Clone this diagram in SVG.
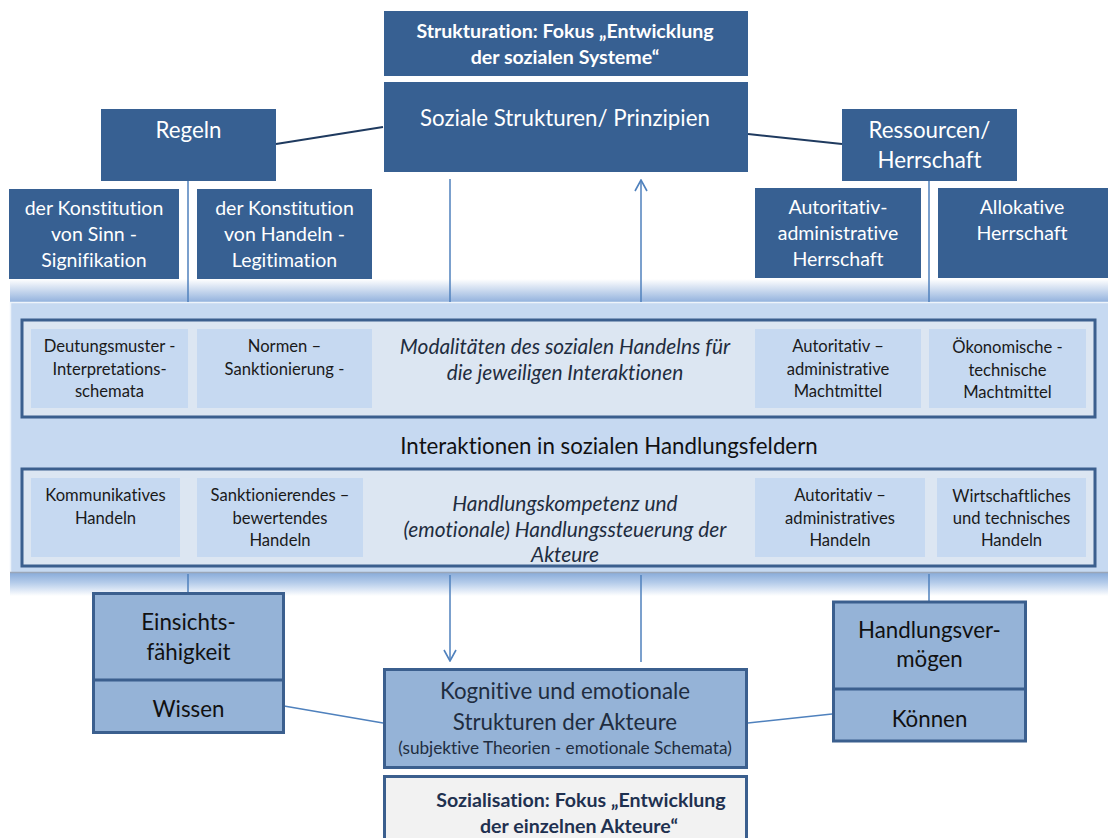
<svg xmlns="http://www.w3.org/2000/svg" width="1108" height="838" viewBox="0 0 1108 838">
  <defs>
    <style>
      text { font-family: Lato, "Liberation Sans", sans-serif; text-anchor: middle; font-variant-ligatures: none; }
      .dark { fill: #376092; }
      .wt { fill: #ffffff; }
      .frame { fill: #DCE6F2; stroke: #3B5F8E; stroke-width: 3; }
      .cell { fill: #C6D9F1; }
      .ct { font-size: 16.6px; fill: #1a1a1a; }
      .it { font-style: italic; font-size: 20.9px; fill: #1F2D40; }
      .lb { fill: #95B3D7; stroke: #3B5F8E; stroke-width: 3; }
      .bt { font-size: 22.3px; fill: #111111; }
      .bold { font-size: 19.6px; font-weight: bold; }
      .conn { stroke: #4F81BD; stroke-width: 1.5; fill: none; }
      .conn-dark { stroke: #1F3A5F; stroke-width: 2; fill: none; }
    </style>
    <linearGradient id="bandTop" x1="0" y1="0" x2="0" y2="1">
      <stop offset="0" stop-color="#ffffff"/>
      <stop offset="1" stop-color="#93B2DD"/>
    </linearGradient>
    <linearGradient id="bandBottom" x1="0" y1="0" x2="0" y2="1">
      <stop offset="0" stop-color="#86A9D8"/>
      <stop offset="0.45" stop-color="#B5CCEA"/>
      <stop offset="1" stop-color="#ffffff"/>
    </linearGradient>
    <marker id="vhead" viewBox="-12 -7 13 14" markerWidth="13" markerHeight="14" refX="0" refY="0" orient="auto" markerUnits="userSpaceOnUse">
      <path d="M-11,-6 L0,0 L-11,6" fill="none" stroke="#4F81BD" stroke-width="1.6"/>
    </marker>
  </defs>

  <rect width="1108" height="838" fill="#ffffff"/>

  <!-- interaction band: bevelled panel with the two framed rows -->
  <g id="interaktionsfeld">
    <rect x="10" y="279" width="1098" height="23" fill="url(#bandTop)"/>
    <rect x="10" y="302" width="1098" height="270" fill="#C6D9F1"/>
    <path d="M10.5,572 V302.5 H1108" fill="none" stroke="#EEF4FB" stroke-width="1.5"/>
    <rect x="10" y="572" width="1098" height="24" fill="url(#bandBottom)"/>
    <line x1="10" y1="572.5" x2="1108" y2="572.5" stroke="#9AA6B8" stroke-width="1.5"/>
    <text x="609" y="454" style="font-size:22.3px; fill:#111111">Interaktionen in sozialen Handlungsfeldern</text>
  </g>

  <g id="modalitaeten">
    <rect class="frame" x="22" y="320" width="1073" height="97"/>
    <text class="it" x="565" y="354">Modalitäten des sozialen Handelns für</text>
    <text class="it" x="565" y="380">die jeweiligen Interaktionen</text>
  </g>
  <g id="deutungsmuster">
    <rect class="cell" x="31" y="329" width="157" height="79"/>
    <text class="ct" x="109.5" y="352">Deutungsmuster -</text>
    <text class="ct" x="109.5" y="375">Interpretations-</text>
    <text class="ct" x="109.5" y="397">schemata</text>
  </g>
  <g id="normen">
    <rect class="cell" x="197" y="329" width="175" height="79"/>
    <text class="ct" x="284.5" y="352">Normen –</text>
    <text class="ct" x="284.5" y="375">Sanktionierung -</text>
  </g>
  <g id="machtmittel-administrativ">
    <rect class="cell" x="755" y="329" width="166" height="79"/>
    <text class="ct" x="838" y="352">Autoritativ –</text>
    <text class="ct" x="838" y="375">administrative</text>
    <text class="ct" x="838" y="397">Machtmittel</text>
  </g>
  <g id="machtmittel-oekonomisch">
    <rect class="cell" x="929" y="329" width="157" height="79"/>
    <text class="ct" x="1007.5" y="353">Ökonomische -</text>
    <text class="ct" x="1007.5" y="376">technische</text>
    <text class="ct" x="1007.5" y="398">Machtmittel</text>
  </g>

  <g id="handlungskompetenz">
    <rect class="frame" x="22" y="469" width="1073" height="97"/>
    <text class="it" x="565" y="511">Handlungskompetenz und</text>
    <text class="it" x="565" y="537">(emotionale) Handlungssteuerung der</text>
    <text class="it" x="565" y="562">Akteure</text>
  </g>
  <g id="kommunikatives-handeln">
    <rect class="cell" x="31" y="478" width="149" height="79"/>
    <text class="ct" x="105.5" y="501">Kommunikatives</text>
    <text class="ct" x="105.5" y="524">Handeln</text>
  </g>
  <g id="sanktionierendes-handeln">
    <rect class="cell" x="197" y="478" width="166" height="79"/>
    <text class="ct" x="280" y="501">Sanktionierendes –</text>
    <text class="ct" x="280" y="524">bewertendes</text>
    <text class="ct" x="280" y="546">Handeln</text>
  </g>
  <g id="administratives-handeln">
    <rect class="cell" x="755" y="478" width="170" height="79"/>
    <text class="ct" x="840" y="501">Autoritativ –</text>
    <text class="ct" x="840" y="524">administratives</text>
    <text class="ct" x="840" y="546">Handeln</text>
  </g>
  <g id="wirtschaftliches-handeln">
    <rect class="cell" x="937" y="478" width="149" height="79"/>
    <text class="ct" x="1011.5" y="502">Wirtschaftliches</text>
    <text class="ct" x="1011.5" y="524">und technisches</text>
    <text class="ct" x="1011.5" y="546">Handeln</text>
  </g>

  <!-- connectors -->
  <g id="connectors">
    <line class="conn-dark" x1="276" y1="144" x2="383" y2="127"/>
    <line class="conn-dark" x1="748" y1="134" x2="842" y2="144"/>
    <line class="conn" x1="188" y1="181" x2="188" y2="302"/>
    <line class="conn" x1="929" y1="181" x2="929" y2="302"/>
    <line class="conn" x1="450" y1="179" x2="450" y2="302"/>
    <line class="conn" x1="641" y1="302" x2="641" y2="180" marker-end="url(#vhead)"/>
    <line class="conn" x1="188" y1="574" x2="188" y2="592"/>
    <line class="conn" x1="929" y1="574" x2="929" y2="601"/>
    <line class="conn" x1="450" y1="575" x2="450" y2="661" marker-end="url(#vhead)"/>
    <line class="conn" x1="641" y1="575" x2="641" y2="662"/>
    <line class="conn" x1="284" y1="706" x2="383" y2="723"/>
    <line class="conn" x1="832" y1="714" x2="748" y2="723"/>
  </g>

  <g id="strukturation">
    <rect class="dark" x="384" y="11" width="364" height="65"/>
    <text class="wt bold" x="565" y="38">Strukturation: Fokus „Entwicklung</text>
    <text class="wt bold" x="565" y="64">der sozialen Systeme“</text>
  </g>
  <g id="soziale-strukturen">
    <rect class="dark" x="384" y="82" width="364" height="90"/>
    <text class="wt" x="565" y="126" style="font-size:22.3px">Soziale Strukturen/ Prinzipien</text>
  </g>
  <g id="regeln">
    <rect class="dark" x="101" y="109" width="175" height="72"/>
    <text class="wt" x="188.5" y="138" style="font-size:22.3px">Regeln</text>
  </g>
  <g id="ressourcen">
    <rect class="dark" x="842" y="109" width="175" height="72"/>
    <text class="wt" x="929.5" y="138" style="font-size:22.3px">Ressourcen/</text>
    <text class="wt" x="929.5" y="168" style="font-size:22.3px">Herrschaft</text>
  </g>
  <g id="signifikation">
    <rect class="dark" x="9" y="189" width="170" height="90"/>
    <text class="wt" x="94" y="215" style="font-size:19.5px">der Konstitution</text>
    <text class="wt" x="94" y="241" style="font-size:19.5px">von Sinn -</text>
    <text class="wt" x="94" y="267" style="font-size:19.5px">Signifikation</text>
  </g>
  <g id="legitimation">
    <rect class="dark" x="197" y="189" width="175" height="90"/>
    <text class="wt" x="284.5" y="215" style="font-size:19.5px">der Konstitution</text>
    <text class="wt" x="284.5" y="241" style="font-size:19.5px">von Handeln -</text>
    <text class="wt" x="284.5" y="267" style="font-size:19.5px">Legitimation</text>
  </g>
  <g id="autoritative-herrschaft">
    <rect class="dark" x="755" y="188" width="166" height="90"/>
    <text class="wt" x="838" y="214" style="font-size:19.5px">Autoritativ-</text>
    <text class="wt" x="838" y="240" style="font-size:19.5px">administrative</text>
    <text class="wt" x="838" y="266" style="font-size:19.5px">Herrschaft</text>
  </g>
  <g id="allokative-herrschaft">
    <rect class="dark" x="938" y="188" width="170" height="90"/>
    <text class="wt" x="1022" y="214" style="font-size:19.5px">Allokative</text>
    <text class="wt" x="1022" y="240" style="font-size:19.5px">Herrschaft</text>
  </g>

  <g id="einsichtsfaehigkeit">
    <rect class="lb" x="93.5" y="593.5" width="190" height="139"/>
    <line x1="93.5" y1="680" x2="283.5" y2="680" stroke="#3B5F8E" stroke-width="3"/>
    <text class="bt" x="188.5" y="630">Einsichts-</text>
    <text class="bt" x="188.5" y="660">fähigkeit</text>
    <text class="bt" x="188.5" y="717">Wissen</text>
  </g>
  <g id="handlungsvermoegen">
    <rect class="lb" x="833.5" y="602" width="192" height="139"/>
    <line x1="833.5" y1="689" x2="1025.5" y2="689" stroke="#3B5F8E" stroke-width="3"/>
    <text class="bt" x="929.5" y="638">Handlungsver-</text>
    <text class="bt" x="929.5" y="667">mögen</text>
    <text class="bt" x="929.5" y="727">Können</text>
  </g>
  <g id="kognitive-strukturen">
    <rect class="lb" x="384.5" y="669.5" width="362" height="98"/>
    <text class="bt" x="565" y="699" style="fill:#1F2D40">Kognitive und emotionale</text>
    <text class="bt" x="565" y="730" style="fill:#1F2D40">Strukturen der Akteure</text>
    <text x="565" y="754" style="font-size:17.2px; fill:#1F2D40">(subjektive Theorien - emotionale Schemata)</text>
  </g>
  <g id="sozialisation">
    <rect x="384.5" y="776.5" width="362" height="70" fill="#F2F2F2" stroke="#3B5F8E" stroke-width="3"/>
    <text class="bold" x="581" y="807" style="fill:#1F3150">Sozialisation: Fokus „Entwicklung</text>
    <text class="bold" x="579" y="833" style="fill:#1F3150">der einzelnen Akteure“</text>
  </g>
</svg>
